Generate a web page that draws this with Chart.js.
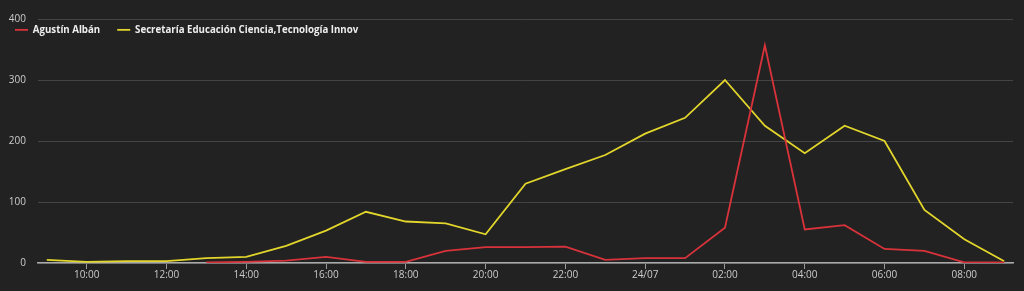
<!DOCTYPE html>
<html>
<head>
<meta charset="utf-8">
<script src="https://cdn.jsdelivr.net/npm/chart.js@4/dist/chart.umd.min.js"></script>
<style>
  html, body { margin: 0; padding: 0; background: #222222; }
  #wrap { width: 1024px; height: 291px; position: relative; }
</style>
</head>
<body>
<div id="wrap"><canvas id="c"></canvas></div>
<script>
// Hourly categories (24/07 = midnight)
const categories = ['09:00','10:00','11:00','12:00','13:00','14:00','15:00','16:00','17:00','18:00','19:00','20:00','21:00','22:00','23:00','24/07','01:00','02:00','03:00','04:00','05:00','06:00','07:00','08:00','09:00'];
const seriesNames = ['Agustín Albán', 'Secretaría Educación Ciencia,Tecnología Innov'];
const agustinValues = [null,null,null,null,1,2,4,10,2,2,20,26,26,27,5,8,8,58,357,55,62,23,20,1,1];
const secretariaValues = [5,2,3,3,8,10,28,53,84,68,65,47,130,154,177,212,238,300,225,180,225,200,87,39,3];
const xTickLabels = ['10:00','12:00','14:00','16:00','18:00','20:00','22:00','24/07','02:00','04:00','06:00','08:00'];
const yTicks = [0, 100, 200, 300, 400];

const tickPositions = xTickLabels.map(l => categories.indexOf(l));
const toPoints = arr => arr.map((v, i) => ({x: i, y: v}));

const legendMover = {
  id: 'legendMover',
  beforeUpdate(chart) {
    if (chart.legend) chart.legend.isHorizontal = () => true;
  },
  beforeDraw(chart) {
    const lg = chart.legend;
    if (!lg) return;
    lg.left = -2;
    lg.top = 8;
    lg.right = 1024;
    lg.width = 1026;
  }
};

new Chart(document.getElementById('c'), {
  type: 'line',
  data: {
    datasets: [
      { label: seriesNames[0], data: toPoints(agustinValues), borderColor: '#d8333b', backgroundColor: '#d8333b', borderWidth: 1.8, pointRadius: 0, tension: 0, spanGaps: false },
      { label: seriesNames[1], data: toPoints(secretariaValues), borderColor: '#e2d52c', backgroundColor: '#e2d52c', borderWidth: 1.8, pointRadius: 0, tension: 0 }
    ]
  },
  options: {
    responsive: true,
    maintainAspectRatio: false,
    animation: false,
    layout: { padding: { left: 0, right: 11, top: 19, bottom: 0 } },
    plugins: {
      tooltip: { enabled: false },
      legend: {
        position: 'chartArea',
        align: 'start',
        labels: {
          usePointStyle: true,
          pointStyle: 'line',
          pointStyleWidth: 13,
          boxHeight: 10,
          padding: 17,
          color: '#eeeeee',
          font: { family: 'Open Sans', size: 9.7, weight: 'bold' }
        }
      }
    },
    scales: {
      x: {
        type: 'linear',
        min: -0.22,
        max: categories.length - 1 + 0.22,
        afterBuildTicks(scale) { scale.ticks = tickPositions.map(v => ({value: v})); },
        afterFit(scale) { scale.height = 28; },
        ticks: {
          autoSkip: false,
          maxRotation: 0,
          padding: 0,
          color: '#cccccc',
          font: { family: 'Open Sans', size: 10 },
          callback: (v) => categories[v]
        },
        grid: { display: true, drawOnChartArea: false, drawTicks: true, tickLength: 6, color: '#999999', lineWidth: 1 },
        border: { display: true, color: '#aaaaaa', width: 1.5 }
      },
      y: {
        min: yTicks[0],
        max: yTicks[yTicks.length - 1],
        afterBuildTicks(scale) { scale.ticks = yTicks.map(v => ({value: v})); },
        afterFit(scale) { scale.width = 38; },
        ticks: {
          padding: 12,
          color: '#cccccc',
          font: { family: 'Open Sans', size: 10 }
        },
        grid: { color: '#444444', lineWidth: 1, drawTicks: false },
        border: { display: false }
      }
    }
  },
  plugins: [legendMover]
});
</script>
</body>
</html>
